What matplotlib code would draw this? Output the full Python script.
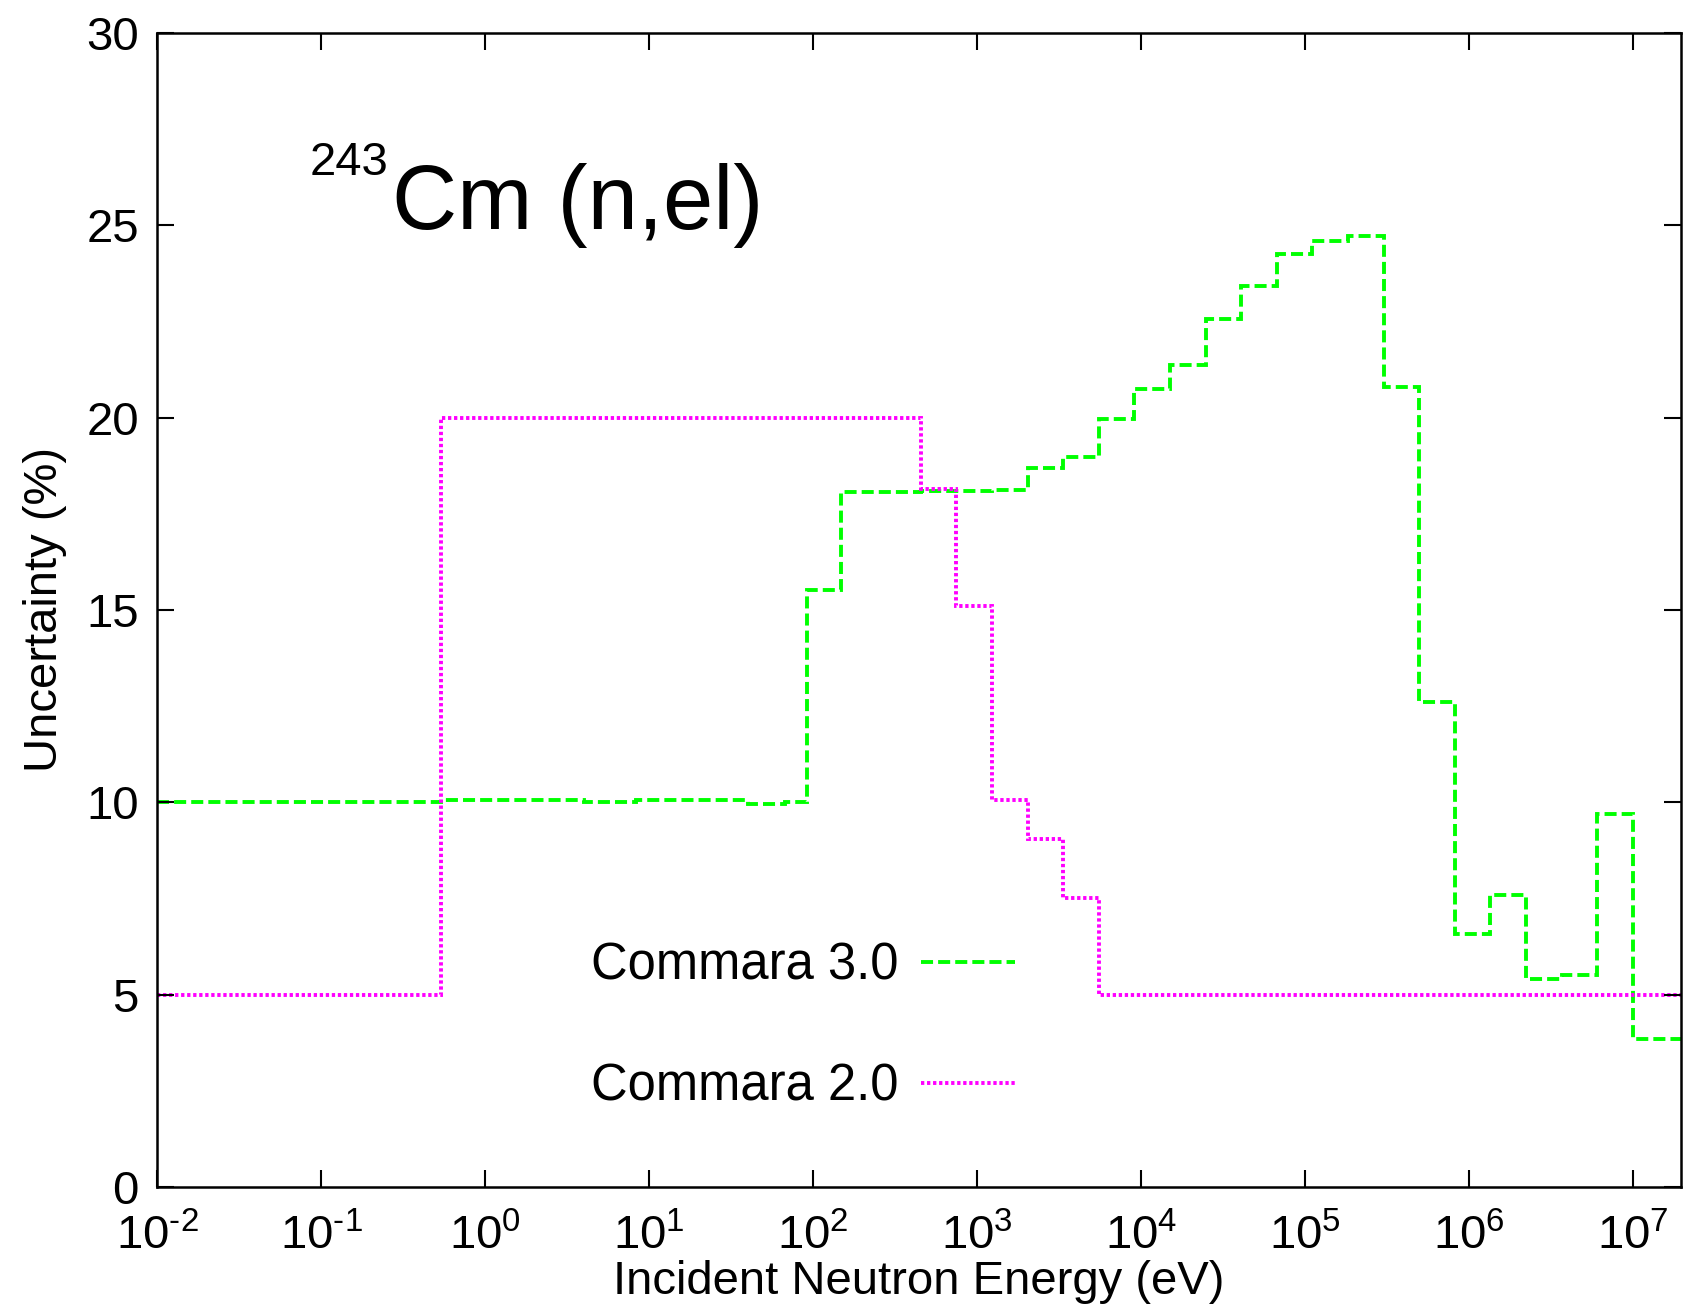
import matplotlib
matplotlib.use("Agg")
import math
import matplotlib.pyplot as plt
from matplotlib.ticker import NullLocator, FixedLocator, FuncFormatter

plt.rcParams['font.family'] = ['Liberation Sans', 'DejaVu Sans']
plt.rcParams['mathtext.fontset'] = 'custom'
plt.rcParams['mathtext.rm'] = 'Liberation Sans'
plt.rcParams['mathtext.it'] = 'Liberation Sans:italic'
plt.rcParams['mathtext.bf'] = 'Liberation Sans:bold'
plt.rcParams['axes.unicode_minus'] = False

# ---- data (ECCO-33 group structure, eV) ----
green_edges = [1e-2, 0.1, 0.54, 4.0, 8.315, 13.71, 22.6, 40.17, 67.9, 91.66,
               148.6, 304.3, 454.0, 748.5, 1234, 2035, 3355, 5531, 9119,
               15030, 24790, 40870, 67380, 111100, 183200, 302000, 497900,
               820900, 1353000, 2231000, 3679000, 6065000, 1e7, 1.964e7]
green_values = [10.0, 10.02, 10.07, 10.02, 10.06, 10.06, 10.05, 9.95, 10.02,
                15.52, 18.08, 18.08, 18.10, 18.10, 18.12, 18.70, 18.97, 19.96,
                20.75, 21.38, 22.57, 23.42, 24.26, 24.60, 24.71, 20.81, 12.60,
                6.59, 7.59, 5.42, 5.51, 9.70, 3.86]

magenta_edges = [1e-2, 0.54, 454.0, 748.5, 1234, 2035, 3355, 5531, 1.964e7]
magenta_values = [5.0, 20.0, 18.15, 15.1, 10.06, 9.05, 7.52, 5.0]

series_labels = ["Commara 3.0", "Commara 2.0"]
yticks = [0, 5, 10, 15, 20, 25, 30]
xticks = [1e-2, 1e-1, 1e0, 1e1, 1e2, 1e3, 1e4, 1e5, 1e6, 1e7]


def log_label(v, pos):
    e = int(round(math.log10(v)))
    sign = '\u2010' if e < 0 else ''
    return r"$\mathdefault{10^{%s%d}}$" % (sign, abs(e))


fig = plt.figure(figsize=(16.87, 13.10), dpi=100)
ax = fig.add_axes([157/1687, 1 - 1187/1310, (1681-157)/1687, (1187-33)/1310])

lw = 2.8
ax.stairs(green_values, green_edges, baseline=None, color='#00ff00',
          linewidth=lw, linestyle=(0, (3.1, 1.3)), label=series_labels[0])
ax.stairs(magenta_values, magenta_edges, baseline=None, color='#ff00ff',
          linewidth=lw, linestyle=(0, (0.85, 0.7)), label=series_labels[1])

ax.set_xscale('log')
ax.set_xlim(1e-2, 1.964e7)
ax.set_ylim(0, 30)
ax.xaxis.set_major_locator(FixedLocator(xticks))
ax.xaxis.set_major_formatter(FuncFormatter(log_label))
ax.xaxis.set_minor_locator(NullLocator())
ax.set_yticks(yticks)

for s in ax.spines.values():
    s.set_linewidth(1.8)

ax.tick_params(axis='both', which='major', direction='in', length=12,
               width=1.5, top=True, right=True, labelsize=34)
ax.tick_params(axis='x', pad=20)
ax.tick_params(axis='y', pad=13)

ax.set_xlabel("Incident Neutron Energy (eV)", fontsize=34, labelpad=0)
ax.set_ylabel("Uncertainty (%)", fontsize=34, labelpad=14)

# title annotation inside the plot
ax.text((392-157)/1524, (1187-229)/1154, "Cm (n,el)", transform=ax.transAxes,
        fontsize=65, ha='left', va='baseline')
ax.text((310-157)/1524, (1187-175)/1154, "243", transform=ax.transAxes,
        fontsize=34, ha='left', va='baseline')

leg = ax.legend(loc='upper right', bbox_to_anchor=((1015-157)/1524, (1187-942)/1154),
                frameon=False, markerfirst=False, fontsize=36.5,
                handlelength=1.85, handletextpad=0.45, labelspacing=1.42,
                borderpad=0, borderaxespad=0)

fig.savefig("out.png", dpi=100)
